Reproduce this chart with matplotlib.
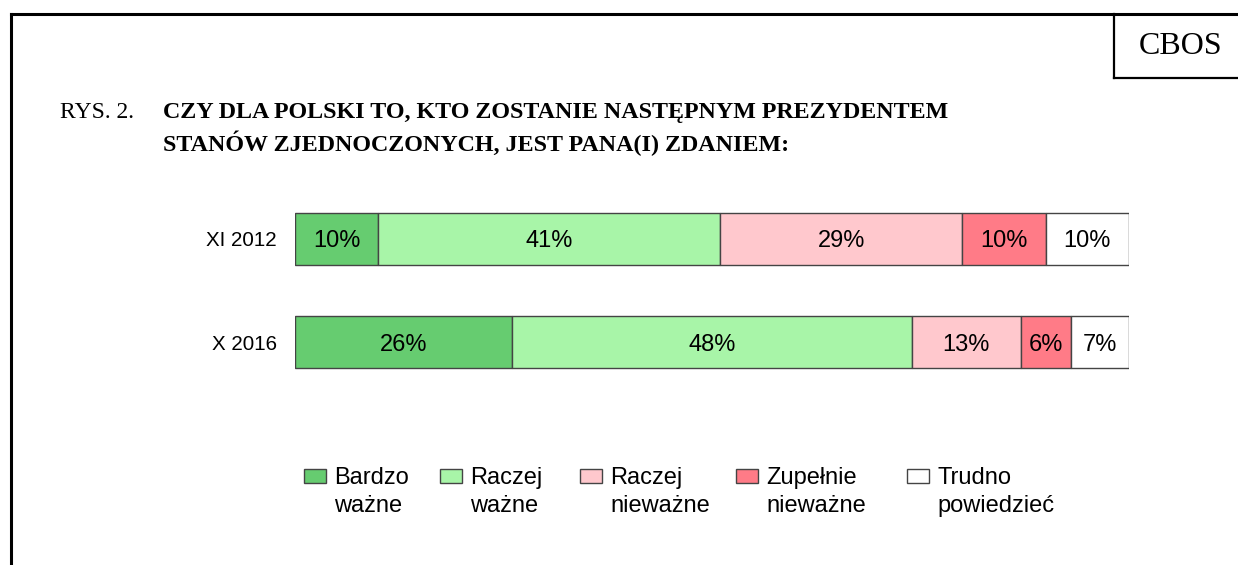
import matplotlib
matplotlib.use("Agg")
import matplotlib.pyplot as plt
from matplotlib.patches import Rectangle
from matplotlib.lines import Line2D
import numpy as np

periods = ["XI 2012", "X 2016"]
categories = ["Bardzo\nważne", "Raczej\nważne", "Raczej\nnieważne", "Zupełnie\nnieważne", "Trudno\npowiedzieć"]
values = {
    "Bardzo\nważne":      [10, 26],
    "Raczej\nważne":      [41, 48],
    "Raczej\nnieważne":   [29, 13],
    "Zupełnie\nnieważne": [10, 6],
    "Trudno\npowiedzieć": [10, 7],
}
colors = ["#66CC70", "#A8F5A8", "#FFC8CD", "#FF7B87", "#FFFFFF"]

W, H = 1238, 565
fig = plt.figure(figsize=(W / 100, H / 100), dpi=100)
sans = ["Liberation Sans", "DejaVu Sans"]
serif = ["Liberation Serif", "DejaVu Serif"]

def fx(px):
    return px / W

def fy(py):
    return 1 - py / H

# frame
fig.add_artist(Line2D([fx(11), fx(1238)], [fy(14), fy(14)], color="black", lw=2.2, transform=fig.transFigure))
fig.add_artist(Line2D([fx(11), fx(11)], [fy(14), fy(565)], color="black", lw=2.2, transform=fig.transFigure))
fig.add_artist(Line2D([fx(1114), fx(1114)], [fy(14), fy(78)], color="black", lw=1.6, transform=fig.transFigure))
fig.add_artist(Line2D([fx(1114), fx(1238)], [fy(78), fy(78)], color="black", lw=1.6, transform=fig.transFigure))
fig.text(fx(1181), fy(46), "CBOS", family=serif, fontsize=23, ha="center", va="center")

# title
fig.text(fx(60), fy(118), "RYS. 2.", family=serif, fontsize=17, ha="left", va="baseline")
fig.text(fx(163), fy(118), "CZY DLA POLSKI TO, KTO ZOSTANIE NASTĘPNYM PREZYDENTEM",
         family=serif, fontsize=17.3, fontweight="bold", ha="left", va="baseline")
fig.text(fx(163), fy(151), "STANÓW ZJEDNOCZONYCH, JEST PANA(I) ZDANIEM:",
         family=serif, fontsize=17.3, fontweight="bold", ha="left", va="baseline")

# bars
ax = fig.add_axes([fx(295), fy(394), (1129 - 295) / W, 207 / H])
y = np.arange(len(periods))
left = np.zeros(len(periods))
for cat, col in zip(categories, colors):
    vals = np.array(values[cat], dtype=float)
    ax.barh(y, vals, left=left, height=0.5, color=col, edgecolor="#444444", linewidth=1.0)
    for yi, v, l in zip(y, vals, left):
        ax.annotate(f"{int(v)}%", (l + v / 2, yi), xytext=(0, -6.2), textcoords="offset points",
                    ha="center", va="baseline", fontsize=17, family=sans)
    left += vals
ax.set_xlim(0, 100)
ax.set_ylim(1.5, -0.5)
ax.set_yticks(y)
ax.set_yticklabels(periods, family=sans, fontsize=14.8)
ax.tick_params(axis="y", length=0, pad=13)
ax.set_xticks([])
for s in ax.spines.values():
    s.set_visible(False)

# legend (manual layout)
leg_x = [304, 440, 580, 736, 907]
for x0, cat, col in zip(leg_x, categories, colors):
    fig.add_artist(Rectangle((fx(x0), fy(483)), 22 / W, 14 / H, facecolor=col,
                             edgecolor="#444444", lw=1.0, transform=fig.transFigure))
    l1, l2 = cat.split("\n")
    fig.text(fx(x0 + 30), fy(484), l1, family=sans, fontsize=17, ha="left", va="baseline")
    fig.text(fx(x0 + 30), fy(512), l2, family=sans, fontsize=17, ha="left", va="baseline")

fig.savefig("out.png", dpi=100)
